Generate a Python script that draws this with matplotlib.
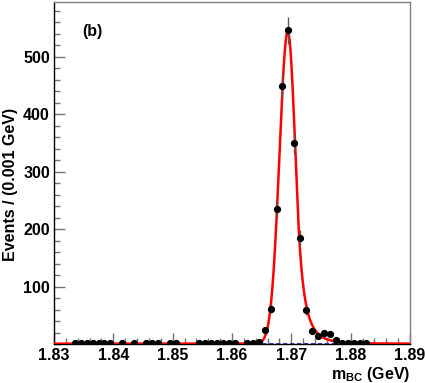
import numpy as np
import matplotlib
matplotlib.use('Agg')
from matplotlib import pyplot as plt
from matplotlib.ticker import MultipleLocator

# bin centres (GeV) and counts per 0.001 GeV
m_bc = [1.8335, 1.8345, 1.8355, 1.8365, 1.8375, 1.8385, 1.8395, 1.8415,
        1.8435, 1.8455, 1.8465, 1.8475, 1.8495, 1.8505, 1.8545, 1.8555,
        1.8565, 1.8575, 1.8585, 1.8595, 1.8605, 1.8625, 1.8635, 1.8645,
        1.8655, 1.8665, 1.8675, 1.8685, 1.8695, 1.8705, 1.8715, 1.8725,
        1.8735, 1.8745, 1.8755, 1.8765, 1.8775, 1.8785, 1.8795, 1.8805,
        1.8815, 1.8825]
events = [1, 1, 2, 1, 1, 2, 1, 1,
          1, 1, 1, 2, 1, 1, 1, 1,
          2, 1, 1, 1, 1, 1, 1, 3,
          25, 61, 234, 449, 546, 349, 184, 59,
          23, 14, 20, 17, 7, 2, 2, 2,
          1, 2]

# fit parameters: peak, widths, right-side power tail, flat background
peak_mean = 1.8694
peak_amp = 543.0
sigma_left = 0.0014
sigma_right = 0.0013
tail_alpha = 1.3
tail_n = 5.0
bkg_level = 0.6

plt.rcParams['font.family'] = ['Liberation Sans', 'DejaVu Sans']
plt.rcParams['font.weight'] = 'bold'
plt.rcParams['mathtext.fontset'] = 'custom'
plt.rcParams['mathtext.rm'] = 'Liberation Sans:bold'
plt.rcParams['mathtext.default'] = 'rm'


def signal(x):
    d = x - peak_mean
    out = np.empty_like(x)
    left = d < 0
    out[left] = np.exp(-0.5 * (d[left] / sigma_left) ** 2)
    t = d[~left] / sigma_right
    core = np.exp(-0.5 * t ** 2)
    a, n = tail_alpha, tail_n
    tail = (n / a) ** n * np.exp(-0.5 * a * a) * (n / a - a + np.maximum(t, a)) ** (-n)
    out[~left] = np.where(t < a, core, tail)
    return peak_amp * out


fig = plt.figure(figsize=(4.25, 3.83), dpi=100)
ax = fig.add_axes([54 / 425, 1 - 344 / 383, 356 / 425, 342 / 383])

xs = np.linspace(1.83, 1.89, 1200)
ax.plot(xs, np.full_like(xs, bkg_level), color='#3b3bbf', linestyle=(0, (3, 2)),
        linewidth=1.0, zorder=2)
ax.plot(xs, signal(xs) + bkg_level, color='red', linewidth=1.8, zorder=3)

ev = np.array(events, dtype=float)
ax.errorbar(m_bc, ev, yerr=np.sqrt(ev), xerr=0.0005, fmt='o', color='black',
            ecolor='0.35', elinewidth=1.0, markersize=4.2, capsize=0, zorder=4)

ax.set_xlim(1.83, 1.89)
ax.set_ylim(0, 595)
ax.set_xticks([1.83, 1.84, 1.85, 1.86, 1.87, 1.88, 1.89])
ax.set_xticklabels(['1.83', '1.84', '1.85', '1.86', '1.87', '1.88', '1.89'])
ax.set_yticks([100, 200, 300, 400, 500])
ax.xaxis.set_minor_locator(MultipleLocator(0.002))
ax.yaxis.set_minor_locator(MultipleLocator(20))
ax.tick_params(which='both', direction='in', top=False, right=False,
               labelsize=11.5, color='0.45')
ax.tick_params(which='major', length=8, width=1.0)
ax.tick_params(which='minor', length=4, width=1.0)
ax.tick_params(axis='x', pad=3)
ax.tick_params(axis='y', pad=3)

ax.spines['left'].set_color('black')
ax.spines['bottom'].set_color('black')
ax.spines['top'].set_color('0.5')
ax.spines['right'].set_color('0.5')
for s in ax.spines.values():
    s.set_linewidth(1.0)

ax.text(0.08, 0.915, '(b)', transform=ax.transAxes, fontsize=11.5,
        fontweight='bold', va='center', ha='left')

fig.text(11 / 425, 1 - 184 / 383, 'Events / (0.001 GeV)', rotation=90,
         ha='center', va='center', fontsize=11.5, fontweight='bold')
fig.text(410 / 425, 1 - 374 / 383, r'm$_{\mathregular{BC}}$ (GeV)',
         ha='right', va='center', fontsize=11.5, fontweight='bold')

fig.savefig('out.png', dpi=100)
